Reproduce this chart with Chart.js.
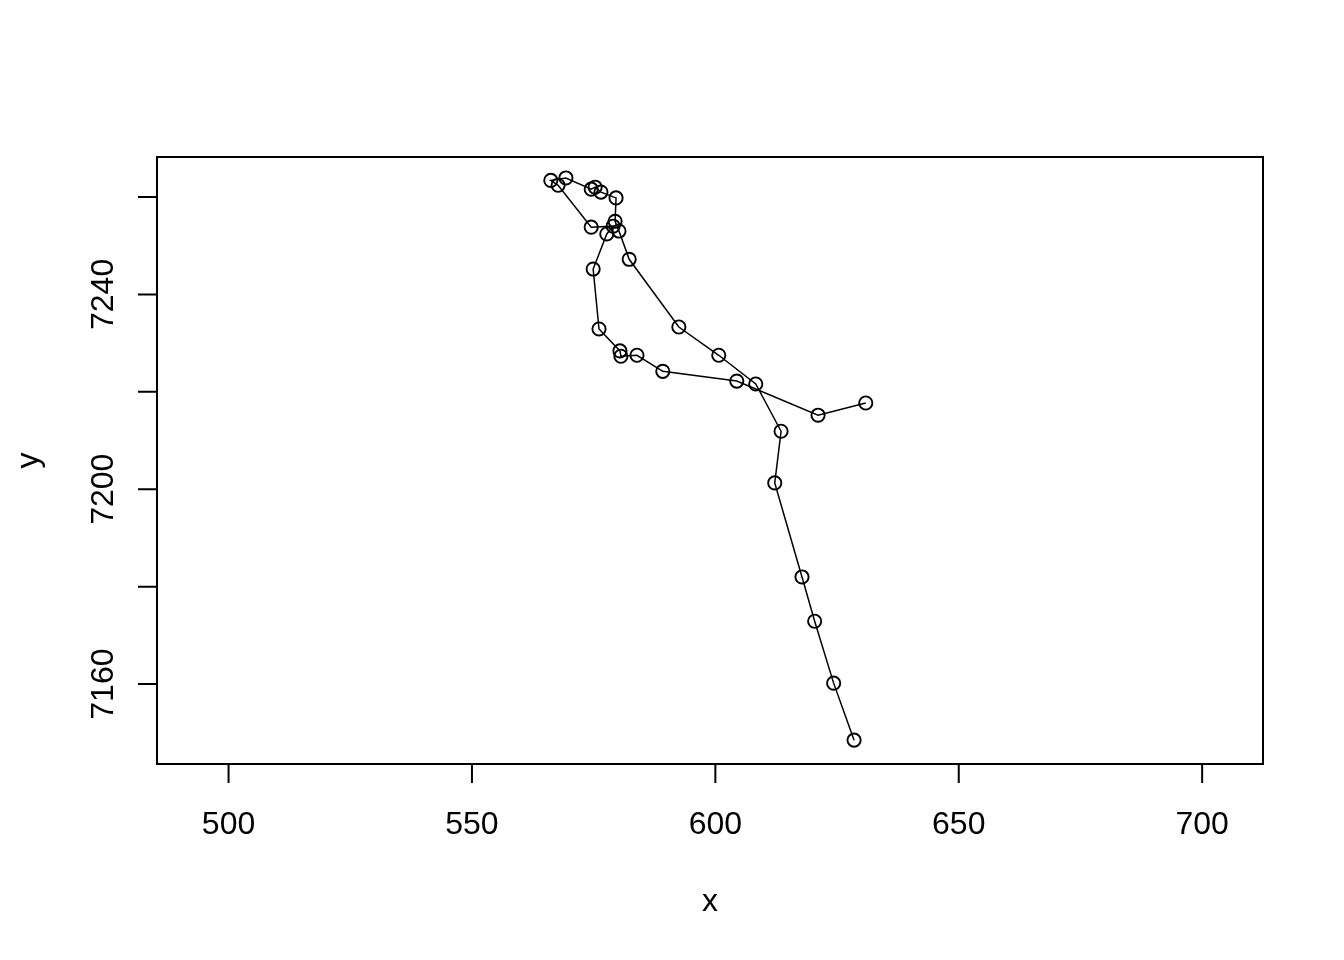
<!DOCTYPE html>
<html>
<head>
<meta charset="utf-8">
<script src="https://cdn.jsdelivr.net/npm/chart.js@4/dist/chart.umd.min.js"></script>
<style>
html,body{margin:0;padding:0;background:#fff;}
canvas{display:block;}
</style>
</head>
<body>
<canvas id="c" width="1344" height="960"></canvas>
<script>
// Data (trajectory order)
const xValues = [630.9, 621.1, 604.4, 589.2, 583.9, 580.6, 580.4, 576.1, 574.9, 577.7,
                 579.0, 574.5, 567.7, 566.2, 569.3, 574.5, 575.3, 576.5, 579.6, 579.4,
                 580.2, 582.3, 592.5, 600.7, 608.3, 613.5, 612.2, 617.8, 620.4, 624.3, 628.5];
const yValues = [7217.7, 7215.2, 7222.2, 7224.2, 7227.5, 7227.3, 7228.4, 7232.9, 7245.2, 7252.4,
                 7254.0, 7253.8, 7262.4, 7263.4, 7263.9, 7261.6, 7262.0, 7261.0, 7259.8, 7255.0,
                 7253.0, 7247.2, 7233.3, 7227.5, 7221.6, 7211.9, 7201.3, 7182.0, 7172.9, 7160.2, 7148.5];
const xTicks = [500, 550, 600, 650, 700];
const yTicks = [7160, 7180, 7200, 7220, 7240, 7260];
const yTickLabels = ["7160", "", "7200", "", "7240", ""];
const xTitle = "x";
const yTitle = "y";

const points = xValues.map((x, i) => ({x: x, y: yValues[i]}));
const FONT = '32px "Liberation Sans", Arial, sans-serif';

const rAxes = {
  id: 'rAxes',
  afterDraw(chart) {
    const ctx = chart.ctx;
    const a = chart.chartArea;
    const xs = chart.scales.x, ys = chart.scales.y;
    ctx.save();
    ctx.strokeStyle = '#000';
    ctx.fillStyle = '#000';
    ctx.lineWidth = 2;
    ctx.strokeRect(a.left, a.top, a.right - a.left, a.bottom - a.top);
    ctx.font = FONT;
    // x axis
    ctx.beginPath();
    ctx.moveTo(xs.getPixelForValue(xTicks[0]), a.bottom);
    ctx.lineTo(xs.getPixelForValue(xTicks[xTicks.length-1]), a.bottom);
    xTicks.forEach(v => {
      const px = xs.getPixelForValue(v);
      ctx.moveTo(px, a.bottom);
      ctx.lineTo(px, a.bottom + 19);
    });
    ctx.stroke();
    ctx.textAlign = 'center';
    ctx.textBaseline = 'alphabetic';
    xTicks.forEach(v => {
      ctx.fillText(String(v), xs.getPixelForValue(v), a.bottom + 70);
    });
    ctx.fillText(xTitle, (a.left + a.right) / 2, a.bottom + 147);
    // y axis
    ctx.beginPath();
    ctx.moveTo(a.left, ys.getPixelForValue(yTicks[0]));
    ctx.lineTo(a.left, ys.getPixelForValue(yTicks[yTicks.length-1]));
    yTicks.forEach(v => {
      const py = ys.getPixelForValue(v);
      ctx.moveTo(a.left, py);
      ctx.lineTo(a.left - 19, py);
    });
    ctx.stroke();
    yTicks.forEach((v, i) => {
      if (!yTickLabels[i]) return;
      const py = ys.getPixelForValue(v);
      ctx.save();
      ctx.translate(a.left - 44, py);
      ctx.rotate(-Math.PI / 2);
      ctx.fillText(yTickLabels[i], 0, 0);
      ctx.restore();
    });
    ctx.save();
    ctx.translate(38, (a.top + a.bottom) / 2);
    ctx.rotate(-Math.PI / 2);
    ctx.fillText(yTitle, 0, 0);
    ctx.restore();
    ctx.restore();
  }
};

new Chart(document.getElementById('c'), {
  type: 'scatter',
  data: {
    datasets: [{
      data: points,
      showLine: true,
      borderColor: '#000',
      borderWidth: 1.5,
      pointRadius: 6.6,
      pointHoverRadius: 6.6,
      pointBorderWidth: 1.9,
      pointBorderColor: '#000',
      pointBackgroundColor: 'rgba(0,0,0,0)',
      tension: 0,
      clip: false
    }]
  },
  options: {
    responsive: false,
    devicePixelRatio: 1,
    animation: false,
    events: [],
    layout: {padding: {left: 157, top: 157, right: 81, bottom: 196}},
    plugins: {legend: {display: false}, tooltip: {enabled: false}},
    scales: {
      x: {type: 'linear', min: 485.3, max: 712.5, display: false},
      y: {type: 'linear', min: 7143.6, max: 7268.2, display: false}
    }
  },
  plugins: [rAxes]
});
</script>
</body>
</html>
